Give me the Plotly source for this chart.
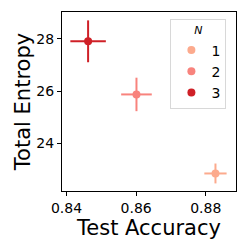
import plotly.graph_objects as go

n_labels = ["1", "2", "3"]
test_acc = [0.8828, 0.8601, 0.8462]
test_acc_err = [0.0032, 0.0044, 0.0051]
entropy = [22.85, 25.87, 27.9]
entropy_err = [0.38, 0.64, 0.8]
colors = ["#fcaa8d", "#f8837d", "#cf2027"]

fig = go.Figure()
for lab, x, xe, y, ye, c in zip(n_labels, test_acc, test_acc_err, entropy, entropy_err, colors):
    fig.add_trace(go.Scatter(
        x=[x], y=[y], mode="markers", name=lab,
        marker=dict(color=c, size=8),
        error_x=dict(type="data", array=[xe], color=c, thickness=2, width=0),
        error_y=dict(type="data", array=[ye], color=c, thickness=2, width=0),
    ))

font = "DejaVu Sans, sans-serif"
fig.update_layout(
    width=249, height=249,
    margin=dict(l=62, r=13, t=12, b=58, autoexpand=False),
    paper_bgcolor="white", plot_bgcolor="white",
    font=dict(family=font, color="black", size=14),
    showlegend=True,
    legend=dict(
        x=0.623, y=0.96, xanchor="left", yanchor="top",
        bgcolor="white", bordercolor="#d8d8d8", borderwidth=1,
        title=dict(text="<i>N</i>", side="top center", font=dict(size=11)),
        font=dict(size=14), itemwidth=30, tracegroupgap=0,
    ),
    xaxis=dict(
        range=[0.8387, 0.8887], tickvals=[0.84, 0.86, 0.88], ticktext=["0.84", "0.86", "0.88"],
        showgrid=False, zeroline=False, showline=True, linecolor="black", linewidth=1, mirror=True,
        ticks="outside", ticklen=4, tickcolor="black", automargin=False,
        title=dict(text="Test Accuracy", font=dict(size=21), standoff=0),
        tickfont=dict(size=14),
    ),
    yaxis=dict(
        range=[22.18, 29.02], tickvals=[24, 26, 28], ticktext=["24", "26", "28"],
        showgrid=False, zeroline=False, showline=True, linecolor="black", linewidth=1, mirror=True,
        ticks="outside", ticklen=4, tickcolor="black", automargin=False,
        title=dict(text="Total Entropy", font=dict(size=21), standoff=0),
        tickfont=dict(size=14),
    ),
)
fig.write_html("out.html", config={"displayModeBar": False},
               post_script="document.body.style.margin='0';document.body.style.overflow='hidden';")
